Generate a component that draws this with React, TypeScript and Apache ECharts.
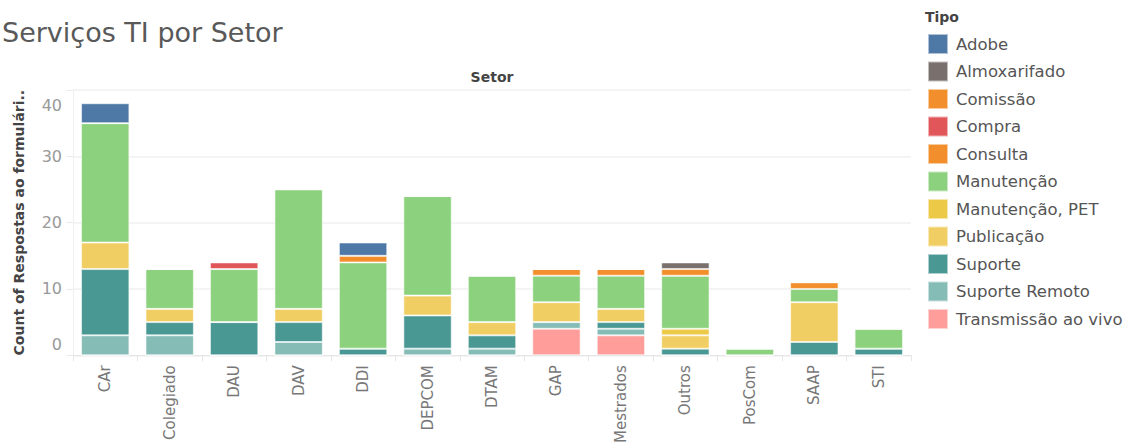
import React, { useEffect, useRef } from "react";
import * as echarts from "echarts";

const categories = ["CAr", "Colegiado", "DAU", "DAV", "DDI", "DEPCOM", "DTAM", "GAP", "Mestrados", "Outros", "PosCom", "SAAP", "STI"];

// legend order (top of legend first)
const legendOrder = ["Adobe", "Almoxarifado", "Comissão", "Compra", "Consulta", "Manutenção", "Manutenção, PET", "Publicação", "Suporte", "Suporte Remoto", "Transmissão ao vivo"];

const colors: Record<string, string> = {
  "Adobe": "#4E79A7",
  "Almoxarifado": "#79706E",
  "Comissão": "#F28E2B",
  "Compra": "#E15759",
  "Consulta": "#F28E2B",
  "Manutenção": "#8CD17D",
  "Manutenção, PET": "#EDC948",
  "Publicação": "#F1CE63",
  "Suporte": "#499894",
  "Suporte Remoto": "#86BCB6",
  "Transmissão ao vivo": "#FF9D9A",
};

// values per category: CAr, Colegiado, DAU, DAV, DDI, DEPCOM, DTAM, GAP, Mestrados, Outros, PosCom, SAAP, STI
const transmissao = [0, 0, 0, 0, 0, 0, 0, 4, 3, 0, 0, 0, 0];
const suporteRemoto = [3, 3, 0, 2, 0, 1, 1, 1, 1, 0, 0, 0, 0];
const suporte = [10, 2, 5, 3, 1, 5, 2, 0, 1, 1, 0, 2, 1];
const publicacao = [4, 2, 0, 2, 0, 3, 2, 3, 2, 2, 0, 6, 0];
const manutencaoPet = [0, 0, 0, 0, 0, 0, 0, 0, 0, 1, 0, 0, 0];
const manutencao = [18, 6, 8, 18, 13, 15, 7, 4, 5, 8, 1, 2, 3];
const consulta = [0, 0, 0, 0, 0, 0, 0, 1, 1, 0, 0, 1, 0];
const compra = [0, 0, 1, 0, 0, 0, 0, 0, 0, 0, 0, 0, 0];
const comissao = [0, 0, 0, 0, 1, 0, 0, 0, 0, 1, 0, 0, 0];
const almoxarifado = [0, 0, 0, 0, 0, 0, 0, 0, 0, 1, 0, 0, 0];
const adobe = [3, 0, 0, 0, 2, 0, 0, 0, 0, 0, 0, 0, 0];

// stacking order bottom -> top
const stackSeries: [string, number[]][] = [
  ["Transmissão ao vivo", transmissao],
  ["Suporte Remoto", suporteRemoto],
  ["Suporte", suporte],
  ["Publicação", publicacao],
  ["Manutenção, PET", manutencaoPet],
  ["Manutenção", manutencao],
  ["Consulta", consulta],
  ["Compra", compra],
  ["Comissão", comissao],
  ["Almoxarifado", almoxarifado],
  ["Adobe", adobe],
];

const yTicks = [0, 10, 20, 30, 40];

export default function App() {
  const ref = useRef<HTMLDivElement>(null);
  useEffect(() => {
    if (!ref.current) return;
    const chart = echarts.init(ref.current, undefined, { renderer: "svg" });
    const font = "DejaVu Sans";
    chart.setOption({
      animation: false,
      textStyle: { fontFamily: font },
      title: [
        {
          text: "Serviços TI por Setor",
          left: 2,
          top: 19,
          padding: 0,
          textStyle: { fontSize: 27, fontWeight: "normal", color: "#595959", fontFamily: font },
        },
        {
          text: "Setor",
          left: 492,
          textAlign: "center",
          top: 70,
          padding: 0,
          textStyle: { fontSize: 14, fontWeight: "bold", color: "#444", fontFamily: font },
        },
      ],
      legend: {
        orient: "vertical",
        left: 927,
        top: 33,
        padding: 0,
        itemWidth: 20,
        itemHeight: 20,
        itemGap: 5.5,
        icon: "rect",
        data: legendOrder,
        selectedMode: false,
        textStyle: { fontSize: 16.5, lineHeight: 20, color: "#555", fontFamily: font, padding: [0, 0, 0, 3] },
      },
      graphic: [
        {
          type: "text",
          left: 925,
          top: 10,
          style: { text: "Tipo", fontSize: 14, fontWeight: "bold", fill: "#444", fontFamily: font },
        },
      ],
      grid: { left: 73, right: 218, top: 90, bottom: 90, containLabel: false },
      xAxis: {
        type: "category",
        data: categories,
        axisLine: { show: true, lineStyle: { color: "#e6e6e6" } },
        axisTick: { show: true, alignWithLabel: false, length: 6, lineStyle: { color: "#e6e6e6" } },
        axisLabel: { rotate: 90, color: "#777", fontSize: 15, margin: 10, fontFamily: font },
      },
      yAxis: {
        type: "value",
        min: 0,
        max: 40,
        interval: 10,
        name: "Count of Respostas ao formulári..",
        nameLocation: "middle",
        nameGap: 47,
        nameTextStyle: { fontSize: 14, fontWeight: "bold", color: "#444", fontFamily: font },
        axisLine: { show: true, lineStyle: { color: "#f0f0f0" } },
        axisTick: { show: true, length: 7, lineStyle: { color: "#eaeaea" } },
        splitLine: { show: true, lineStyle: { color: "#f0f0f0", width: 1.5 } },
        axisLabel: {
          color: "#999",
          fontSize: 16,
          margin: 11,
          fontFamily: font,
          formatter: (v: number) => {
            if (v === yTicks[yTicks.length - 1]) return "{top|" + v + "}";
            if (v === yTicks[0]) return "{bot|" + v + "}";
            return String(v);
          },
          rich: {
            top: { fontSize: 16, color: "#999", fontFamily: font, padding: [30, 0, 0, 0] },
            bot: { fontSize: 16, color: "#999", fontFamily: font, padding: [0, 0, 22, 0] },
          },
        },
      },
      series: stackSeries.map(([name, values]) => ({
        name,
        type: "bar",
        stack: "total",
        barWidth: "75%",
        data: values,
        itemStyle: { color: colors[name], borderColor: "rgba(255,255,255,0.55)", borderWidth: 1 },
        emphasis: { disabled: true },
      })),
    });
    return () => chart.dispose();
  }, []);
  return <div ref={ref} style={{ position: "absolute", left: 0, top: 0, width: 1129, height: 446 }} />;
}
